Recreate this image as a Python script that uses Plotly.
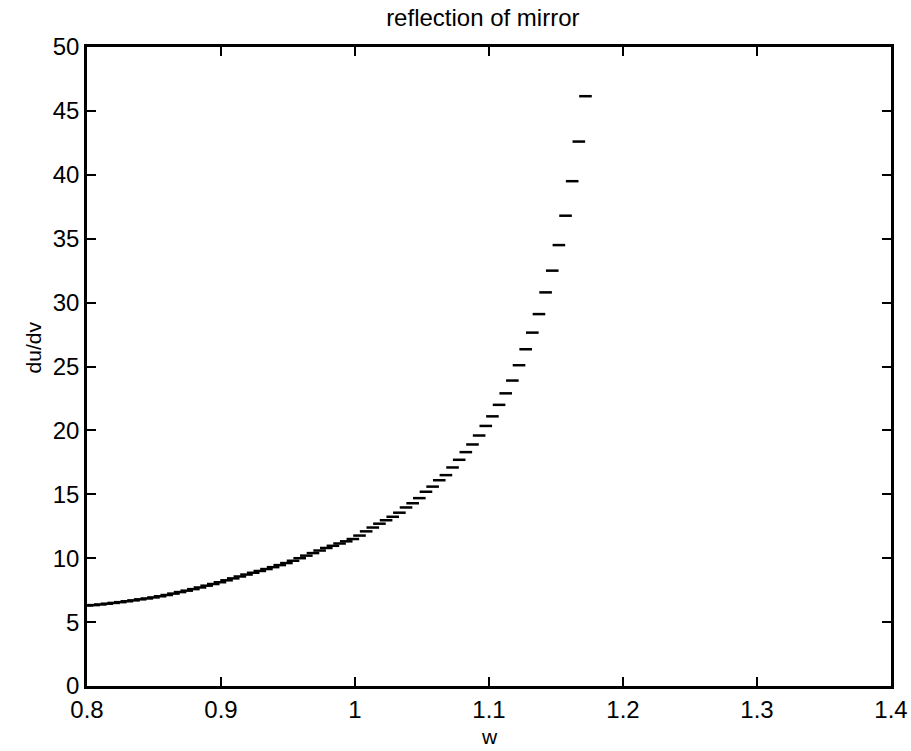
import numpy as np
import plotly.graph_objects as go

# Sample grid in w (evenly spaced, 76 samples)
W_START = 0.800
W_END = 1.172

# du/dv read at each sample
dudv_low = [6.30, 6.33, 6.38, 6.44, 6.50, 6.56, 6.63, 6.70, 6.78, 6.85,
            6.93, 7.02, 7.12, 7.23, 7.35, 7.46, 7.58, 7.71, 7.85, 7.98,
            8.12, 8.27, 8.42, 8.57, 8.72, 8.86, 9.00, 9.15, 9.30, 9.46,
            9.62, 9.80, 10.00, 10.20, 10.40, 10.60, 10.80, 10.97, 11.15, 11.32]
dudv_mid = [11.50, 11.77, 12.10, 12.40, 12.70, 12.97, 13.24, 13.56, 13.97, 14.30,
            14.70, 15.20, 15.60, 16.10, 16.50, 17.10, 17.70, 18.30, 18.90, 19.60,
            20.35, 21.10, 22.00]
dudv_high = [22.90, 23.90, 25.10, 26.35, 27.65, 29.10, 30.80, 32.50, 34.50, 36.80,
             39.50, 42.60, 46.15]

dudv = dudv_low + dudv_mid + dudv_high
w = np.linspace(W_START, W_END, len(dudv))

x_ticks = [0.8, 0.9, 1.0, 1.1, 1.2, 1.3, 1.4]
x_tick_text = ["0.8", "0.9", "1", "1.1", "1.2", "1.3", "1.4"]
y_ticks = [0, 5, 10, 15, 20, 25, 30, 35, 40, 45, 50]

FONT = "Liberation Sans, Arial, sans-serif"

fig = go.Figure(
    go.Scatter(
        x=w,
        y=dudv,
        mode="markers",
        marker=dict(symbol="line-ew", size=9, color="black",
                    line=dict(width=2.5, color="black")),
        showlegend=False,
        hoverinfo="x+y",
    )
)

axis_common = dict(
    showgrid=False,
    zeroline=False,
    showline=True,
    linecolor="black",
    linewidth=2.5,
    mirror="ticks",
    ticks="inside",
    ticklen=9,
    tickwidth=2,
    tickcolor="black",
    tickfont=dict(family=FONT, size=24, color="black"),
    automargin=False,
)

label_font = dict(family=FONT, size=21, color="black")

fig.update_layout(
    width=911,
    height=751,
    margin=dict(l=87, r=20, t=47, b=65),
    paper_bgcolor="white",
    plot_bgcolor="white",
    title=dict(
        text="reflection of mirror",
        font=dict(family=FONT, size=24, color="black"),
        x=0.53, xanchor="center", xref="container",
        y=1 - 18 / 751, yanchor="middle", yref="container",
    ),
    xaxis=dict(
        range=[0.8, 1.4],
        tickvals=x_ticks,
        ticktext=x_tick_text,
        **axis_common,
    ),
    yaxis=dict(
        range=[0, 50],
        tickvals=y_ticks,
        **axis_common,
    ),
    annotations=[
        dict(
            text="du/dv",
            textangle=-90,
            xref="paper", yref="paper",
            x=-0.067, y=0.53,
            xanchor="center", yanchor="middle",
            showarrow=False,
            font=label_font,
        ),
        dict(
            text="w",
            xref="paper", yref="paper",
            x=0.5, y=-0.079,
            xanchor="center", yanchor="middle",
            showarrow=False,
            font=label_font,
        ),
    ],
)

fig.write_html("out.html")
